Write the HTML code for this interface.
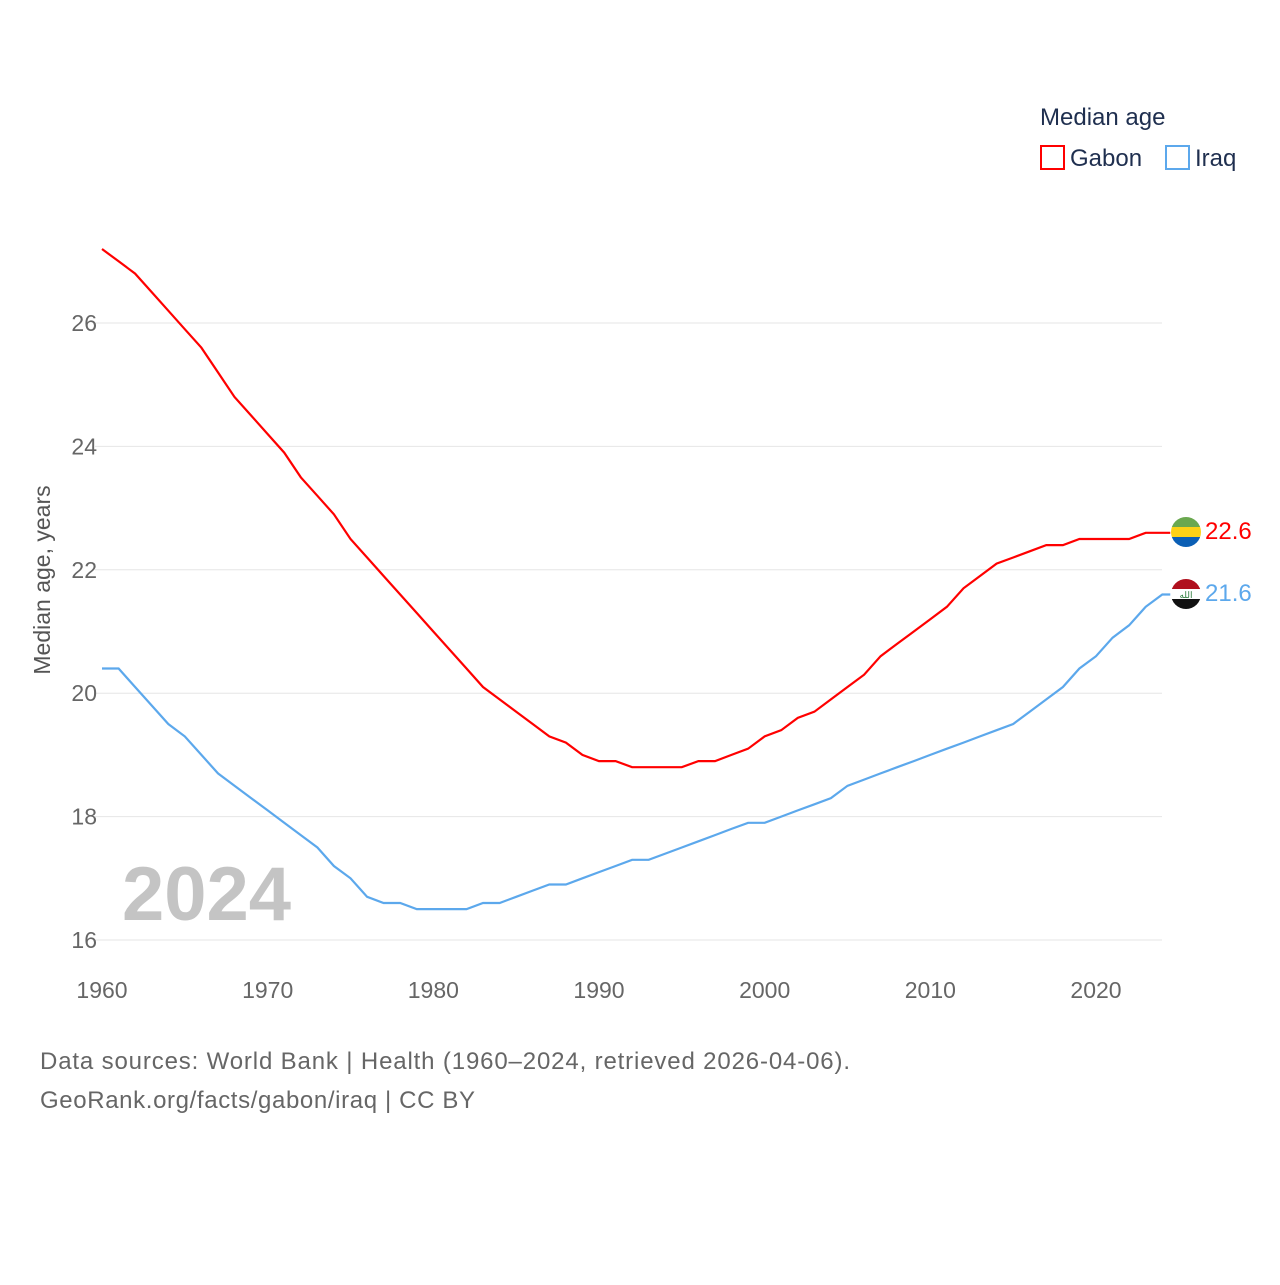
<!DOCTYPE html>
<html><head><meta charset="utf-8"><style>
body{margin:0;background:#fff;font-family:"Liberation Sans",sans-serif}
svg text{font-family:"Liberation Sans",sans-serif}
</style></head><body>
<svg id="chart" width="1280" height="1280" xmlns="http://www.w3.org/2000/svg">
<g id="grid"></g>
<g id="lines"></g>
<text x="122" y="920" font-size="76" font-weight="bold" fill="#c4c4c4">2024</text>
<text transform="translate(50,580) rotate(-90)" text-anchor="middle" font-size="23" fill="#555">Median age, years</text>
<g>
<text x="1040" y="125" font-size="24" fill="#1f2f4f">Median age</text>
<rect x="1041" y="146" width="23" height="23" fill="none" stroke="#ff0000" stroke-width="2"/>
<text x="1070" y="166" font-size="24" fill="#1f2f4f">Gabon</text>
<rect x="1166" y="146" width="23" height="23" fill="none" stroke="#5ca8ec" stroke-width="2"/>
<text x="1195" y="166" font-size="24" fill="#1f2f4f">Iraq</text>
</g>
<g>
<clipPath id="c1"><circle cx="1186" cy="532" r="15"/></clipPath>
<g clip-path="url(#c1)"><rect x="1170" y="516" width="32" height="11" fill="#6aa84f"/><rect x="1170" y="527" width="32" height="10" fill="#fcd116"/><rect x="1170" y="537" width="32" height="11" fill="#0b5fb5"/></g>
</g>
<g>
<clipPath id="c2"><circle cx="1186" cy="594" r="15"/></clipPath>
<g clip-path="url(#c2)"><rect x="1170" y="578" width="32" height="11" fill="#b0101e"/><rect x="1170" y="589" width="32" height="10" fill="#fff"/><rect x="1170" y="599" width="32" height="11" fill="#111"/></g>
<text x="1186" y="598" font-size="9" fill="#2a7a3a" text-anchor="middle">الله</text>
</g>
<text x="1205" y="539" font-size="24" fill="#ff0000">22.6</text>
<text x="1205" y="601" font-size="24" fill="#5ca8ec">21.6</text>
<text x="40" y="1069" font-size="24" fill="#666" textLength="810">Data sources: World Bank | Health (1960–2024, retrieved 2026-04-06).</text>
<text x="40" y="1108" font-size="24" fill="#666" textLength="435">GeoRank.org/facts/gabon/iraq | CC BY</text>
</svg>
<script>
const years=[];for(let y=1960;y<=2024;y++)years.push(y);
const gabon=[27.2,27.0,26.8,26.5,26.2,25.9,25.6,25.2,24.8,24.5,24.2,23.9,23.5,23.2,22.9,22.5,22.2,21.9,21.6,21.3,21.0,20.7,20.4,20.1,19.9,19.7,19.5,19.3,19.2,19.0,18.9,18.9,18.8,18.8,18.8,18.8,18.9,18.9,19.0,19.1,19.3,19.4,19.6,19.7,19.9,20.1,20.3,20.6,20.8,21.0,21.2,21.4,21.7,21.9,22.1,22.2,22.3,22.4,22.4,22.5,22.5,22.5,22.5,22.6,22.6];
const iraq=[20.4,20.4,20.1,19.8,19.5,19.3,19.0,18.7,18.5,18.3,18.1,17.9,17.7,17.5,17.2,17.0,16.7,16.6,16.6,16.5,16.5,16.5,16.5,16.6,16.6,16.7,16.8,16.9,16.9,17.0,17.1,17.2,17.3,17.3,17.4,17.5,17.6,17.7,17.8,17.9,17.9,18.0,18.1,18.2,18.3,18.5,18.6,18.7,18.8,18.9,19.0,19.1,19.2,19.3,19.4,19.5,19.7,19.9,20.1,20.4,20.6,20.9,21.1,21.4,21.6];
const yTicks=[16,18,20,22,24,26];
const xTicks=[1960,1970,1980,1990,2000,2010,2020];
const X=y=>102+(y-1960)*(1096-102)/60;
const Y=v=>940-(v-16)*(940-323)/10;
const ns="http://www.w3.org/2000/svg";
const grid=document.getElementById('grid');
yTicks.forEach(t=>{
 const l=document.createElementNS(ns,'line');
 l.setAttribute('x1',95);l.setAttribute('x2',1162);l.setAttribute('y1',Y(t));l.setAttribute('y2',Y(t));
 l.setAttribute('stroke','#e6e6e6');
 
 
 grid.appendChild(l);
 const tx=document.createElementNS(ns,'text');
 tx.setAttribute('x',97);tx.setAttribute('y',Y(t)+8);tx.setAttribute('text-anchor','end');
 tx.setAttribute('font-size','23');tx.setAttribute('fill','#666');tx.textContent=t;
 
 
 grid.appendChild(tx);
});
xTicks.forEach(t=>{
 const tx=document.createElementNS(ns,'text');
 tx.setAttribute('x',X(t));tx.setAttribute('y',998);tx.setAttribute('text-anchor','middle');
 tx.setAttribute('font-size','23');tx.setAttribute('fill','#666');tx.textContent=t;
 
 
 grid.appendChild(tx);
});
const lines=document.getElementById('lines');
function draw(data,color,name){
 let d=data.map((v,i)=>(i?'L':'M')+X(years[i]).toFixed(1)+','+Y(v).toFixed(1)).join(' ');
 d+=' L'+(X(years[years.length-1])+8)+','+Y(data[data.length-1]).toFixed(1);
 const p=document.createElementNS(ns,'path');
 p.setAttribute('d',d);p.setAttribute('fill','none');p.setAttribute('stroke',color);p.setAttribute('stroke-width','2.2');
 
 
 lines.appendChild(p);
}
draw(gabon,'#ff0000','gabon-line');
draw(iraq,'#5ca8ec','iraq-line');
</script>
</body></html>
